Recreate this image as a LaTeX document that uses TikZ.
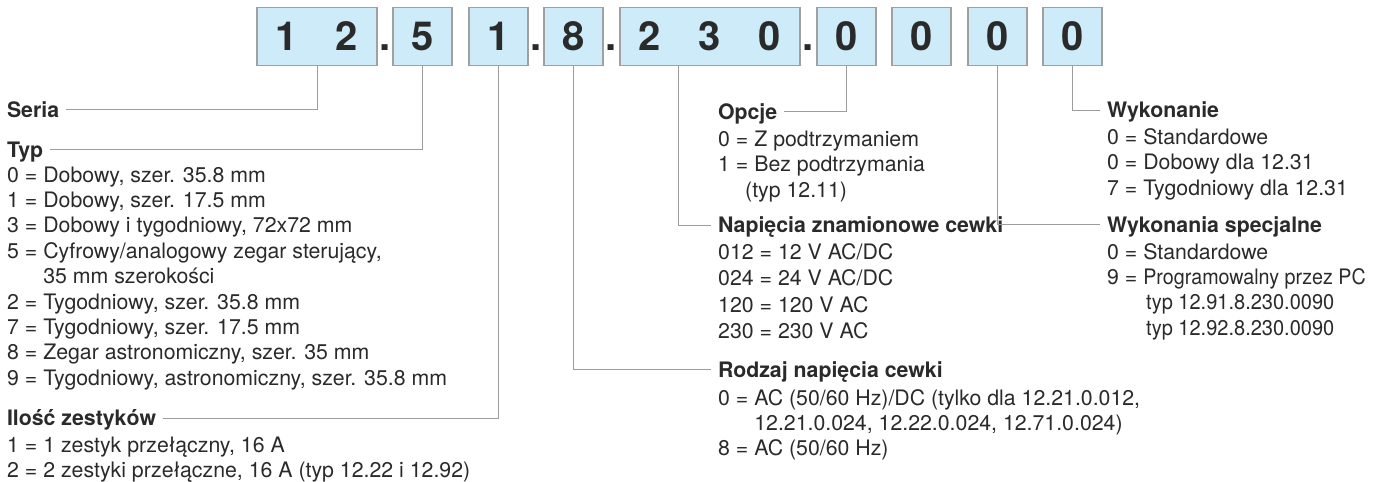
\documentclass[tikz,border=0pt]{standalone}
\usepackage{fontspec}
\setmainfont{TeX Gyre Heros}
\definecolor{textc}{HTML}{2A2A2A}
\definecolor{boxc}{HTML}{A0A0A0}
\definecolor{boxfill}{HTML}{CDEBF8}
\definecolor{linec}{HTML}{9C9C9C}
\tikzset{
  boxn/.style={draw=boxc, fill=boxfill, line width=1.1pt, inner sep=0pt, minimum height=58pt,
    font=\fontsize{40}{40}\selectfont\bfseries, text=textc},
  dotn/.style={inner sep=0pt, anchor=base, font=\fontsize{40}{40}\selectfont\bfseries, text=textc},
  head/.style={inner sep=0pt, outer xsep=7pt, anchor=base west,
    font=\fontsize{21.3}{25.4}\selectfont\bfseries, text=textc, text height=19pt, text depth=4pt},
  items/.style={inner sep=0pt, anchor=base west, font=\fontsize{21.3}{25.4}\selectfont, text=textc},
  itemswide/.style={items, font=\fontsize{21.3}{26.3}\selectfont},
  conn/.style={draw=linec, line width=1pt},
}
\newcommand{\blk}[1]{\begin{tabular}[t]{@{}l@{}}#1\end{tabular}}
\begin{document}
\begin{tikzpicture}[x=1pt,y=-1pt]
\useasboundingbox (0,0) rectangle (1377,482);
% code boxes
\node[boxn, minimum width=120pt] (b1) at (317,36.5) {\makebox[60pt]{1}\makebox[60pt]{2}};
\node[boxn, minimum width=59pt] (b2) at (422.5,36.5) {5};
\node[boxn, minimum width=59pt] (b3) at (498.5,36.5) {1};
\node[boxn, minimum width=59pt] (b4) at (573.5,36.5) {8};
\node[boxn, minimum width=180pt] (b5) at (710,36.5) {\makebox[60pt]{2}\makebox[60pt]{3}\makebox[60pt]{0}};
\node[boxn, minimum width=59pt] (b6) at (846.5,36.5) {0};
\node[boxn, minimum width=59pt] (b7) at (921.5,36.5) {0};
\node[boxn, minimum width=59pt] (b8) at (997.5,36.5) {0};
\node[boxn, minimum width=59pt] (b9) at (1072.5,36.5) {0};
\node[dotn] (d1) at (385,50.7) {.};
\node[dotn] (d2) at (536,50.7) {.};
\node[dotn] (d3) at (611.5,50.7) {.};
\node[dotn] (d4) at (808.5,50.7) {.};
% left column
\node[head] (seria) at (0,117) {Seria};
\node[head] (typ) at (0,157) {Typ};
\node[items] (typitems) at (7,182) {\blk{%
0 = Dobowy, szer. 35.8 mm\\
1 = Dobowy, szer. 17.5 mm\\
3 = Dobowy i tygodniowy, 72x72 mm\\
5 = Cyfrowy/analogowy zegar sterujący,\\
\phantom{5 = }35 mm szerokości\\
2 = Tygodniowy, szer. 35.8 mm\\
7 = Tygodniowy, szer. 17.5 mm\\
8 = Zegar astronomiczny, szer. 35 mm\\
9 = Tygodniowy, astronomiczny, szer. 35.8 mm}};
\node[head] (ilosc) at (0,425.5) {Ilość zestyków};
\node[items] (iloscitems) at (7,452.5) {\blk{%
1 = 1 zestyk przełączny, 16 A\\
2 = 2 zestyki przełączne, 16 A (typ 12.22 i 12.92)}};
% middle column
\node[head] (opcje) at (711,119) {Opcje};
\node[items] (opcjeitems) at (718,146.5) {\blk{%
0 = Z podtrzymaniem\\
1 = Bez podtrzymania\\
\hspace*{27pt}(typ 12.11)}};
\node[head] (napiecia) at (711,232.5) {Napięcia znamionowe cewki};
\node[itemswide] (napieciaitems) at (718,259.5) {\blk{%
012 = 12 V AC/DC\\
024 = 24 V AC/DC\\
120 = 120 V AC\\
230 = 230 V AC}};
\node[head] (rodzaj) at (711,377) {Rodzaj napięcia cewki};
\node[items] (rodzajitems) at (718,405) {\blk{%
0 = AC (50/60 Hz)/DC (tylko dla 12.21.0.012,\\
\phantom{0 = }12.21.0.024, 12.22.0.024, 12.71.0.024)\\
8 = AC (50/60 Hz)}};
% right column
\node[head] (wyk) at (1100,117.5) {Wykonanie};
\node[items] (wykitems) at (1107,144.5) {\blk{%
0 = Standardowe\\
0 = Dobowy dla 12.31\\
7 = Tygodniowy dla 12.31}};
\node[head] (wykspec) at (1100,232) {Wykonania specjalne};
\node[items] (wykspecitems) at (1107,259) {\blk{%
0 = Standardowe\\
9 = \scalebox{0.925}[1]{Programowalny przez PC}\\
\hspace*{39pt}\scalebox{0.94}[1]{typ 12.91.8.230.0090}\\
\hspace*{39pt}\scalebox{0.94}[1]{typ 12.92.8.230.0090}}};
% connectors
\draw[conn] (b1.south) |- (seria);
\draw[conn] (b2.south) |- (typ);
\draw[conn] (b3.south) |- (ilosc);
\draw[conn] (b4.south) |- (rodzaj);
\draw[conn] ([xshift=-32pt]b5.south) |- (napiecia);
\draw[conn] (b6.south) |- (opcje);
\draw[conn] (b8.south) |- (wykspec);
\draw[conn] (b9.south) |- (wyk);
\end{tikzpicture}
\end{document}
